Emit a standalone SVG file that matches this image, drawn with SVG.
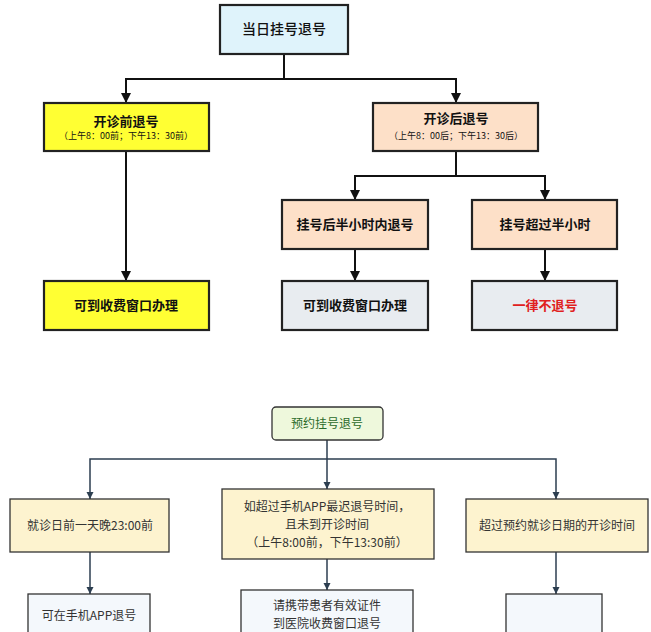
<svg xmlns="http://www.w3.org/2000/svg" width="651" height="632" viewBox="0 0 651 632">
<defs>
<style>
text{font-family:"Noto Sans CJK SC","Liberation Sans",sans-serif;text-anchor:middle;fill:#111}
.a{stroke:#222;stroke-width:2.2}
.b{stroke:#333;stroke-width:1.3}
.t{font-size:13px;font-weight:bold}
.s{font-size:9px}
.u{font-size:12px;fill:#333}
.c{fill:none;stroke:#111;stroke-width:2}
.d{fill:none;stroke:#2c3e50;stroke-width:1.5}
</style>
<marker id="m" viewBox="0 0 10 10" refX="10" refY="5" markerWidth="5" markerHeight="5" orient="auto"><path d="M0,0L10,5L0,10z" fill="#111"/></marker>
<marker id="n" viewBox="0 0 10 10" refX="10" refY="5" markerWidth="5" markerHeight="6" orient="auto"><path d="M0,0L10,5L0,10z" fill="#2c3e50"/></marker>
</defs>
<rect width="651" height="632" fill="#fff"/>
<g id="connectors">
<path class="c" d="M284,54V79M126,103V79H456V103" marker-end="url(#m)"/>
<path class="c" d="M126,79V103" marker-end="url(#m)"/>
<path class="c" d="M126,151V281" marker-end="url(#m)"/>
<path class="c" d="M456,151V176H355V200" marker-end="url(#m)"/>
<path class="c" d="M456,176H545V200" marker-end="url(#m)"/>
<path class="c" d="M355,249V281" marker-end="url(#m)"/>
<path class="c" d="M545,249V281" marker-end="url(#m)"/>
<path class="d" d="M327,440V489" marker-end="url(#n)"/>
<path class="d" d="M327,459H90V499" marker-end="url(#n)"/>
<path class="d" d="M327,459H556V499" marker-end="url(#n)"/>
<path class="d" d="M90,552V594" marker-end="url(#n)"/>
<path class="d" d="M327,559V590" marker-end="url(#n)"/>
<path class="d" d="M556,552V594" marker-end="url(#n)"/>
</g>
<g id="n1"><rect x="220" y="5" width="128" height="49" fill="#dff3fb" class="a"/><text x="284" y="34" style="font-size:14px;font-weight:500">当日挂号退号</text></g>
<g id="n2"><rect x="44" y="103" width="165" height="48" fill="#ffff33" class="a"/><text x="126" y="126" class="t">开诊前退号</text><text x="126" y="139" class="s">（上午8：00前；下午13：30前）</text></g>
<g id="n3"><rect x="373" y="103" width="165" height="48" fill="#fde0c8" class="a"/><text x="456" y="123" class="t">开诊后退号</text><text x="456" y="139" class="s">（上午8：00后；下午13：30后）</text></g>
<g id="n4"><rect x="282" y="200" width="146" height="49" fill="#fde0c8" class="a"/><text x="355" y="229" class="t">挂号后半小时内退号</text></g>
<g id="n5"><rect x="472" y="200" width="145" height="49" fill="#fde0c8" class="a"/><text x="545" y="229" class="t">挂号超过半小时</text></g>
<g id="n6"><rect x="44" y="281" width="165" height="49" fill="#ffff33" class="a"/><text x="126" y="310" class="t">可到收费窗口办理</text></g>
<g id="n7"><rect x="282" y="281" width="146" height="49" fill="#e8ecf0" class="a"/><text x="355" y="310" class="t">可到收费窗口办理</text></g>
<g id="n8"><rect x="472" y="281" width="145" height="49" fill="#e8ecf0" class="a"/><text x="545" y="310" class="t" style="fill:#e02020">一律不退号</text></g>
<g id="p1"><rect x="272" y="407" width="111" height="33" rx="4" fill="#eef8dc" class="b"/><text x="327" y="428" class="u" style="fill:#2a6a2a">预约挂号退号</text></g>
<g id="p2"><rect x="10" y="499" width="159" height="53" fill="#fdf3cf" class="b"/><text x="90" y="530" class="u">就诊日前一天晚23:00前</text></g>
<g id="p3"><rect x="222" y="489" width="212" height="70" fill="#fdf3cf" class="b"/><text x="327" y="511" class="u">如超过手机APP最迟退号时间，</text><text x="327" y="529" class="u">且未到开诊时间</text><text x="327" y="547" class="u">（上午8:00前，下午13:30前）</text></g>
<g id="p4"><rect x="466" y="499" width="182" height="53" fill="#fdf3cf" class="b"/><text x="557" y="530" class="u">超过预约就诊日期的开诊时间</text></g>
<g id="p5"><rect x="28" y="594" width="122" height="50" fill="#f4f8fc" class="b"/><text x="89" y="620" class="u">可在手机APP退号</text></g>
<g id="p6"><rect x="241" y="590" width="172" height="54" fill="#f4f8fc" class="b"/><text x="327" y="610" class="u">请携带患者有效证件</text><text x="327" y="628" class="u">到医院收费窗口退号</text></g>
<g id="p7"><rect x="506" y="594" width="96" height="50" fill="#f4f8fc" class="b"/></g>
</svg>
